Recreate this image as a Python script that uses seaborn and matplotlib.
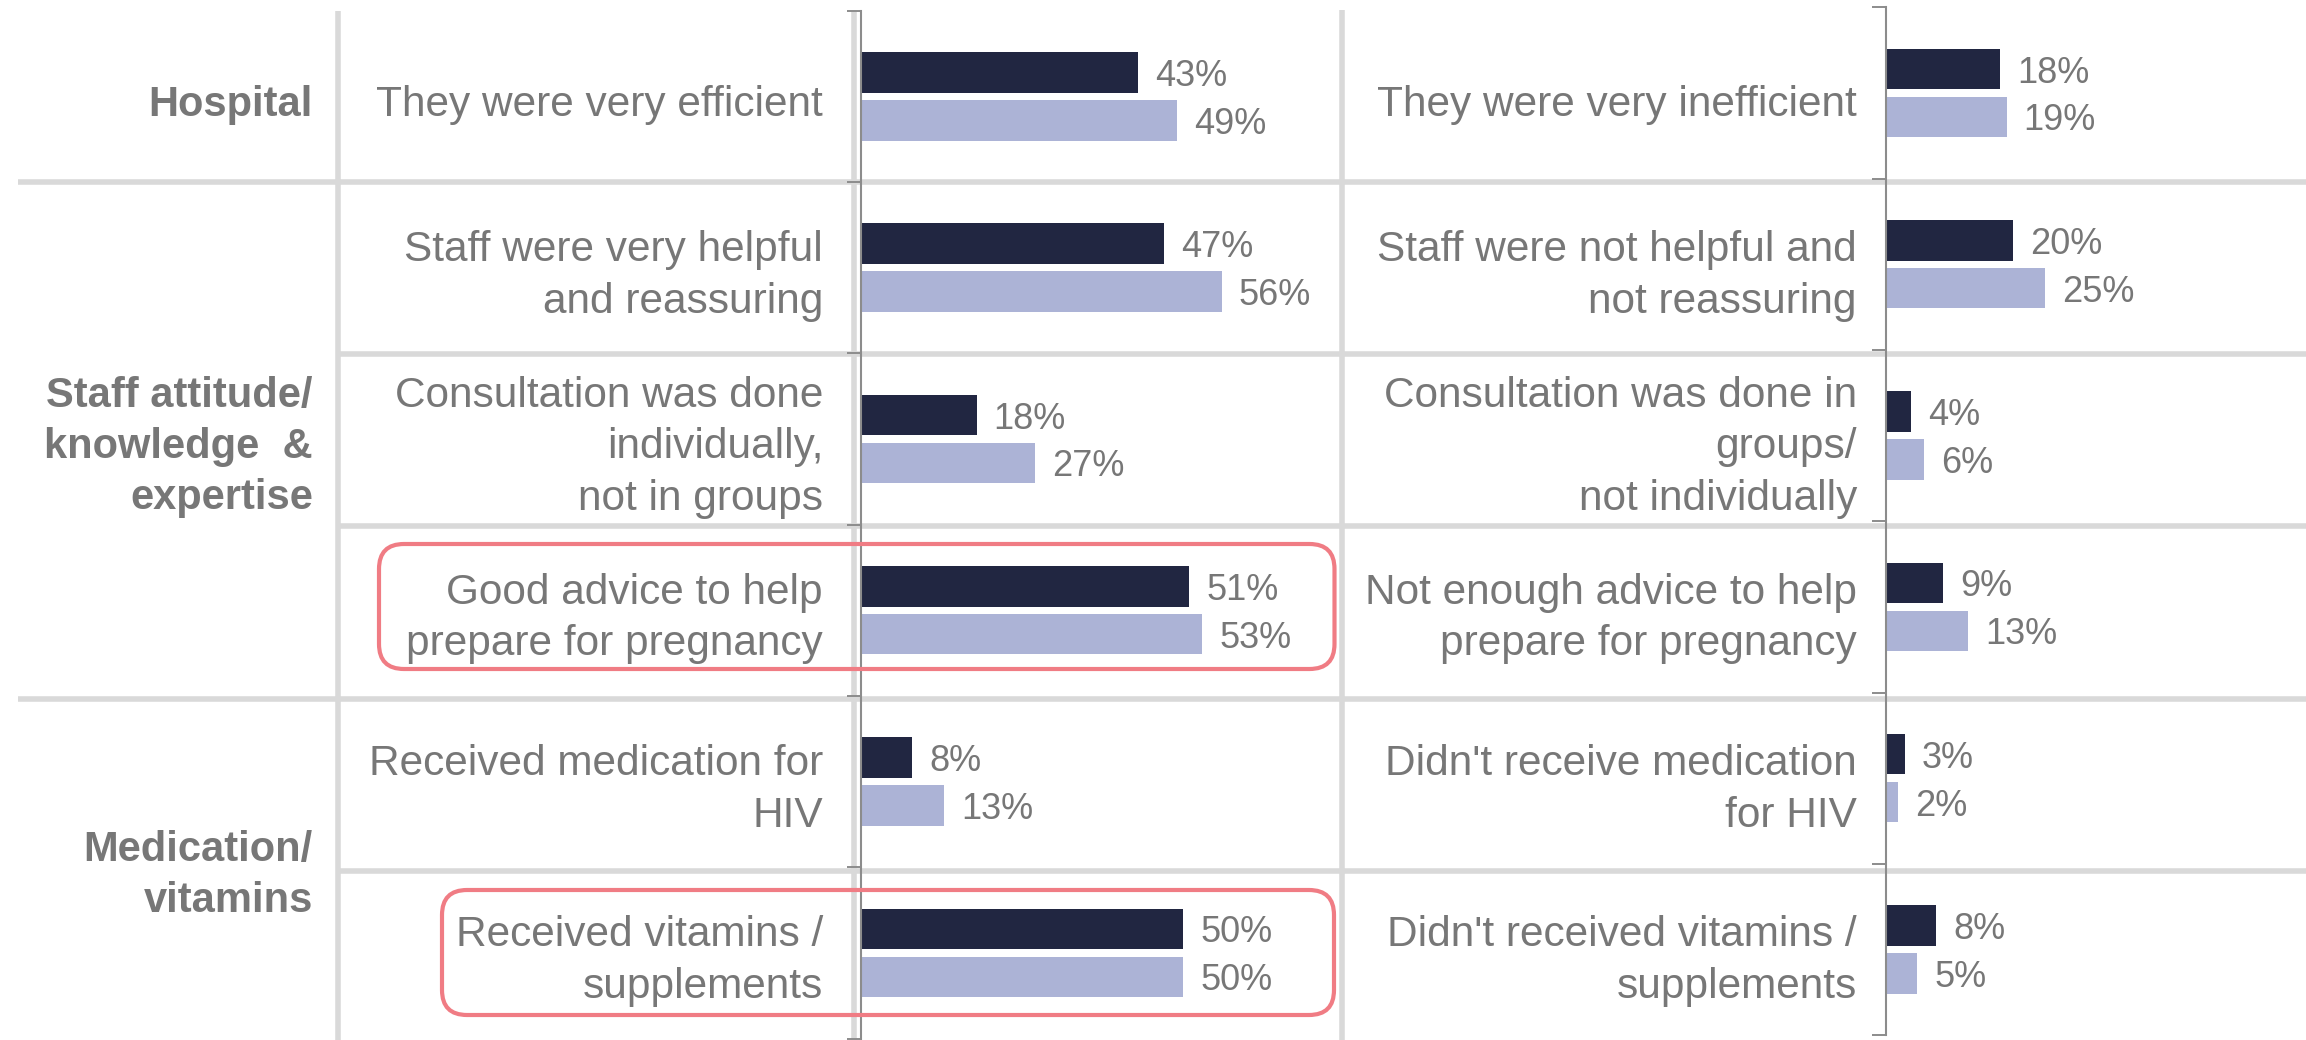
import numpy as np
import pandas as pd
import matplotlib
matplotlib.use("Agg")
import matplotlib.pyplot as plt
import matplotlib.transforms as mtransforms
from matplotlib.lines import Line2D
from matplotlib.patches import FancyBboxPatch
import seaborn as sns

# ---------------- data ----------------
series = ["Group A", "Group B"]

positive_labels = [
    "They were very efficient",
    "Staff were very helpful\nand reassuring",
    "Consultation was done\nindividually,\nnot in groups",
    "Good advice to help\nprepare for pregnancy",
    "Received medication for\nHIV",
    "Received vitamins /\nsupplements",
]
positive_dark = [43, 47, 18, 51, 8, 50]
positive_light = [49, 56, 27, 53, 13, 50]

negative_labels = [
    "They were very inefficient",
    "Staff were not helpful and\nnot reassuring",
    "Consultation was done in\ngroups/\nnot individually",
    "Not enough advice to help\nprepare for pregnancy",
    "Didn't receive medication\nfor HIV",
    "Didn't received vitamins /\nsupplements",
]
negative_dark = [18, 20, 4, 9, 3, 8]
negative_light = [19, 25, 6, 13, 2, 5]

group_names = ["Hospital", "Staff attitude/\nknowledge  &\nexpertise", "Medication/\nvitamins"]
group_first_row = [0, 1, 4]
group_last_row = [0, 3, 5]

highlighted_rows = [3, 5]

# ---------------- style ----------------
DARK = "#212641"
LIGHT = "#acb3d6"
TXT = "#777777"
GRID = "#d9d9d9"
AXIS = "#8c8c8c"
RED = "#f07c84"
TEXT_SHIFT = 0.048  # downward nudge of label blocks (data units)

sns.set_style("white")
plt.rcParams["font.family"] = ["Liberation Sans", "DejaVu Sans"]

W, H = 2306, 1040
fig = plt.figure(figsize=(W / 100, H / 100), dpi=100)
fig.patch.set_facecolor("white")


def px_rect(left, top, right, bottom):
    return [left / W, 1 - bottom / H, (right - left) / W, (bottom - top) / H]


ax_l = fig.add_axes(px_rect(860.5, 10.7, 1341, 1038.5))
ax_r = fig.add_axes(px_rect(1885.5, 7.3, 2306, 1035.1))


def panel(ax, labels, dark, light, xmax, label_x_px):
    df = pd.DataFrame({
        "item": labels * 2,
        "series": [series[0]] * len(labels) + [series[1]] * len(labels),
        "value": dark + light,
    })
    sns.barplot(data=df, x="value", y="item", hue="series", order=labels,
                hue_order=series, orient="h", palette=[DARK, LIGHT],
                width=0.559, gap=0.154, saturation=1, linewidth=0,
                errorbar=None, legend=False, ax=ax)
    ax.set_ylim(len(labels) - 0.5, -0.5)
    ax.set_xlim(0, xmax)
    ax.set_facecolor("none")
    for s in ["top", "right", "bottom"]:
        ax.spines[s].set_visible(False)
    ax.spines["left"].set_color(AXIS)
    ax.spines["left"].set_linewidth(1.5)
    ax.set_yticks(np.arange(-0.5, len(labels), 1))
    ax.set_yticklabels([])
    ax.tick_params(axis="y", length=10, width=1.4, color=AXIS, left=True)
    ax.set_xticks([])
    ax.set_xlabel("")
    ax.set_ylabel("")
    for cont in ax.containers:
        texts = ax.bar_label(cont, labels=[f"{v:.0f}%" for v in cont.datavalues],
                             padding=12.3, fontsize=26, color=TXT)
        for t in texts:
            t.set_va("center_baseline")
    # item labels aligned to the row grid of the left panel
    tr = mtransforms.blended_transform_factory(fig.transFigure, ax_l.transData)
    for i, lab in enumerate(labels):
        ax.text(label_x_px / W, i + TEXT_SHIFT, lab, transform=tr, ha="right",
                va="center", fontsize=30.5, color=TXT, linespacing=1.37,
                clip_on=False)


panel(ax_l, positive_labels, positive_dark, positive_light, 480.5 / 6.45, 823)
panel(ax_r, negative_labels, negative_dark, negative_light, 420.5 / 6.37, 1857)

# group labels
trg = mtransforms.blended_transform_factory(fig.transFigure, ax_l.transData)
for name, a, b in zip(group_names, group_first_row, group_last_row):
    ax_l.text(313 / W, (a + b) / 2 + TEXT_SHIFT, name, transform=trg, ha="right",
              va="center", fontsize=30, fontweight="bold", color=TXT,
              linespacing=1.36, clip_on=False)

# grid lines (figure pixels)
idt = mtransforms.IdentityTransform()
h_lines = [(182.3, 17.7), (354, 338), (525.8, 338), (699, 17.7), (871, 338)]
for y, x0 in h_lines:
    fig.add_artist(Line2D([x0, W], [H - y, H - y], transform=idt, color=GRID,
                          lw=4, zorder=-1, solid_capstyle="butt"))
for x, y0 in [(338, 10.7), (853.8, 10.7), (1341.7, 10)]:
    fig.add_artist(Line2D([x, x], [H - y0, 0], transform=idt, color=GRID,
                          lw=4, zorder=-1, solid_capstyle="butt"))

# highlight boxes
boxes = {3: (379, 544, 1334.5, 669), 5: (442, 890, 1334, 1015)}
for r in highlighted_rows:
    x0, y0, x1, y1 = boxes[r]
    fig.add_artist(FancyBboxPatch((x0, H - y1), x1 - x0, y1 - y0,
                                  boxstyle="round,pad=0,rounding_size=25",
                                  transform=idt, fill=False, ec=RED, lw=3,
                                  zorder=10))

fig.savefig("out.png", dpi=100, facecolor="white")
